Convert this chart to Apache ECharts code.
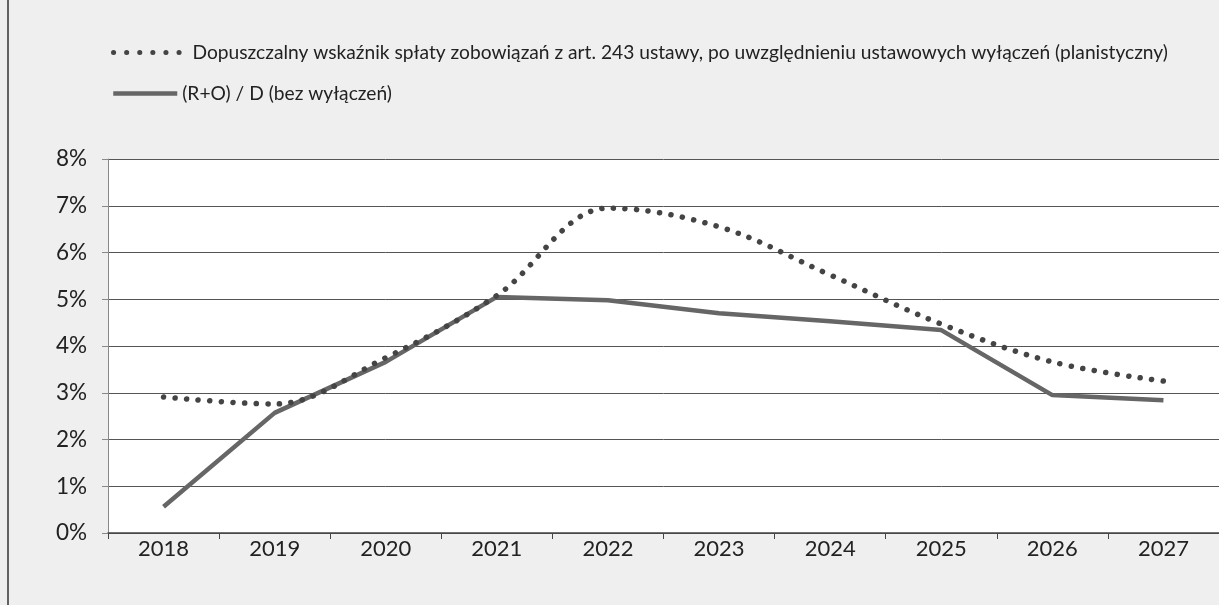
<!DOCTYPE html>
<html><head><meta charset="utf-8">
<script src="https://cdn.jsdelivr.net/npm/echarts@6/dist/echarts.min.js"></script>
<style>html,body{margin:0;padding:0;background:#efefef;}#c{width:1219px;height:605px;}</style>
</head><body><div id="c"></div>
<script>
const categories = ['2018','2019','2020','2021','2022','2023','2024','2025','2026','2027'];
const dopuszczalny = [2.91, 2.76, 3.75, 5.08, 6.95, 6.55, 5.52, 4.47, 3.66, 3.25];
const roD = [0.56, 2.57, 3.66, 5.05, 4.98, 4.70, 4.53, 4.34, 2.95, 2.84];
const yTicks = [0,1,2,3,4,5,6,7,8];
const seriesNames = ['Dopuszczalny wskaźnik spłaty zobowiązań z art. 243 ustawy, po uwzględnieniu ustawowych wyłączeń (planistyczny)', '(R+O) / D (bez wyłączeń)'];

const chart = echarts.init(document.getElementById('c'));
const FONT = 'Lato, "Open Sans", sans-serif';
const legendText = {fontFamily: FONT, fontSize: 19.2, color: '#222'};
chart.setOption({
  backgroundColor: '#efefef',
  animation: false,
  graphic: [
    {type:'line', shape:{x1:8,y1:0,x2:8,y2:605}, style:{stroke:'#333', lineWidth:1.5}}
  ],
  legend: [
    {left: 106, top: 38, itemWidth: 74, itemHeight: 14, itemStyle: {opacity: 0},
     textStyle: legendText,
     data: [{name: seriesNames[0], lineStyle: {color: '#444', width: 5, type: [0.1, 13], cap: 'round'}}]},
    {left: 106, top: 79, itemWidth: 64, itemHeight: 14, itemStyle: {opacity: 0},
     textStyle: legendText,
     data: [{name: seriesNames[1], lineStyle: {color: '#666', width: 4.5}}]}
  ],
  grid: {left: 108, right: -25, top: 159, bottom: 72, show: true, backgroundColor: '#fff', borderWidth: 0},
  xAxis: {
    type: 'category', data: categories, boundaryGap: true,
    axisLine: {lineStyle: {color: '#444', width: 1.5}},
    axisTick: {show: true, length: 6, lineStyle: {color: '#444'}},
    axisLabel: {fontFamily: FONT, fontSize: 22, color: '#222', margin: 5}
  },
  yAxis: {
    type: 'value', min: 0, max: 8, interval: 1,
    axisLine: {show: true, lineStyle: {color: '#888', width: 1}},
    axisTick: {show: true, length: 6, lineStyle: {color: '#888'}},
    splitLine: {lineStyle: {color: '#555', width: 1}},
    axisLabel: {fontFamily: FONT, fontSize: 22.5, color: '#222', margin: 21, formatter: v => v + '%'}
  },
  series: [
    {name: seriesNames[0], type: 'line', data: dopuszczalny, smooth: 0.35, symbol: 'none',
     itemStyle: {color: '#444'},
     lineStyle: {color: '#444', width: 5.5, type: [0.1, 11.5], cap: 'round'}, z: 3},
    {name: seriesNames[1], type: 'line', data: roD, smooth: false, symbol: 'none',
     itemStyle: {color: '#666'},
     lineStyle: {color: '#666', width: 4.5}, z: 2}
  ]
});
</script></body></html>
